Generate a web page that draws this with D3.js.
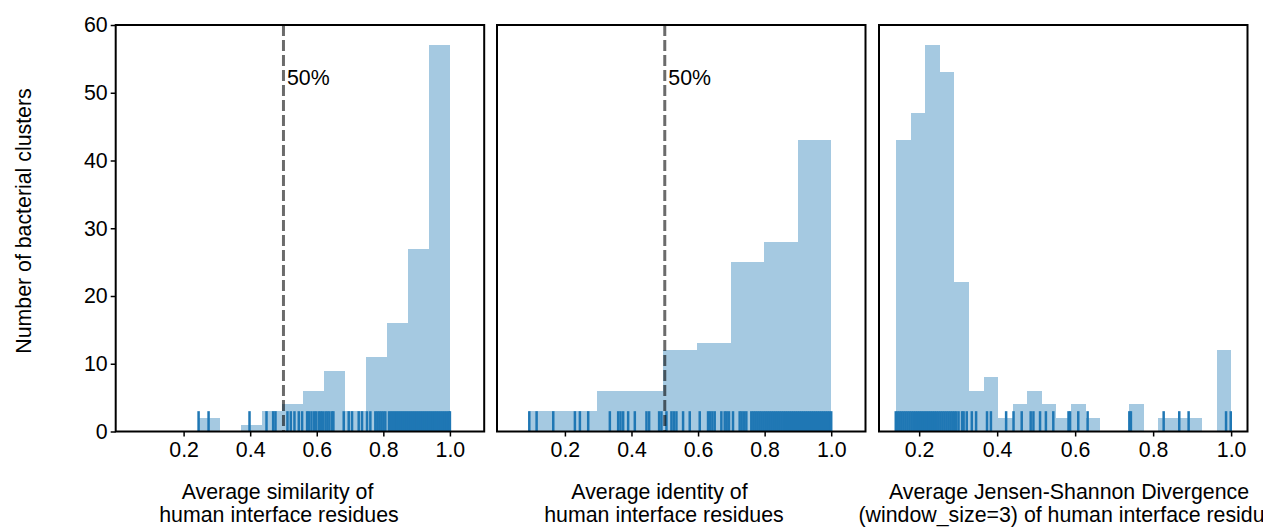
<!DOCTYPE html>
<html>
<head>
<meta charset="utf-8">
<script src="https://cdn.jsdelivr.net/npm/d3@7"></script>
<style>
    body { margin: 0; background: #fff; overflow: hidden; }
    text { font-family: "Liberation Sans", Arial, sans-serif; }
</style>
</head>
<body>
<script>
//histogram bin edges and counts
const simEdges = [0.247, 0.309, 0.372, 0.435, 0.497, 0.560, 0.623, 0.686, 0.749, 0.812, 0.874, 0.937, 1.0];
const simCounts = [2, 0, 1, 3, 4, 6, 9, 3, 11, 16, 27, 57];

const idEdges = [0.093, 0.194, 0.295, 0.395, 0.496, 0.597, 0.698, 0.798, 0.899, 1.0];
const idCounts = [3, 3, 6, 6, 12, 13, 25, 28, 43];

const jsdEdges = [0.141, 0.178, 0.216, 0.253, 0.290, 0.328, 0.365, 0.402, 0.440, 0.477, 0.515, 0.552,
    0.589, 0.627, 0.664, 0.701, 0.739, 0.776, 0.813, 0.851, 0.888, 0.925, 0.963, 1.0];
const jsdCounts = [43, 47, 57, 53, 22, 6, 8, 2, 4, 6, 4, 2, 4, 2, 0, 0, 4, 0, 2, 2, 2, 0, 12];

//rug values (one tick per cluster, as far as they can be told apart)
const simRug = [0.245, 0.275, 0.398, 0.449, 0.469, 0.476,
    0.512, 0.522, 0.533, 0.546, 0.556,
    0.571, 0.576, 0.584, 0.592, 0.598, 0.606, 0.612, 0.618, 0.626, 0.632, 0.638, 0.646, 0.650,
    0.681, 0.696, 0.706, 0.726, 0.736, 0.751, 0.761,
    0.776, 0.782, 0.788, 0.794, 0.800, 0.806,
    0.817, 0.823, 0.829, 0.835, 0.841, 0.847, 0.853, 0.859, 0.865, 0.871, 0.877, 0.883, 0.889, 0.895,
    0.901, 0.907, 0.913, 0.919, 0.925, 0.931, 0.937, 0.943, 0.949, 0.955, 0.961, 0.967, 0.973, 0.979,
    0.985, 0.991, 0.997, 1.0];

const idRug = [0.093, 0.115, 0.165, 0.230, 0.245, 0.270, 0.335, 0.360, 0.367, 0.375, 0.390, 0.410,
    0.445, 0.453, 0.483, 0.490, 0.505, 0.520, 0.527, 0.535, 0.555, 0.575, 0.605,
    0.630, 0.636, 0.643, 0.650, 0.670, 0.680, 0.686, 0.693, 0.705, 0.725, 0.731, 0.738, 0.745,
    0.760, 0.766, 0.772, 0.778, 0.784, 0.790, 0.796, 0.802, 0.808, 0.814, 0.820, 0.826, 0.832, 0.838,
    0.844, 0.850, 0.856, 0.862, 0.868, 0.874, 0.880, 0.886, 0.892, 0.898, 0.904, 0.910, 0.916, 0.922,
    0.928, 0.934, 0.940, 0.946, 0.952, 0.958, 0.964, 0.970, 0.976, 0.982, 0.988, 0.994, 1.0];

const jsdRug = [0.140, 0.145, 0.150, 0.155, 0.160, 0.165, 0.170, 0.175, 0.180, 0.185, 0.190, 0.195,
    0.200, 0.205, 0.210, 0.215, 0.220, 0.225, 0.230, 0.235, 0.240, 0.245, 0.250, 0.255, 0.260, 0.265,
    0.270, 0.275, 0.280, 0.285, 0.290, 0.295, 0.301, 0.310, 0.314, 0.322, 0.335, 0.346, 0.374, 0.384,
    0.423, 0.442, 0.463, 0.486, 0.493, 0.510, 0.525, 0.544, 0.583, 0.587, 0.608, 0.632, 0.739, 0.743,
    0.827, 0.867, 0.891, 0.987, 0.999];

//ticks and labels
const yTicks = [0, 10, 20, 30, 40, 50, 60];
const xTicks = [0.2, 0.4, 0.6, 0.8, 1.0];
const yLabel = "Number of bacterial clusters";
const simLabel = ["Average similarity of", "human interface residues"];
const idLabel = ["Average identity of", "human interface residues"];
const jsdLabel = ["Average Jensen-Shannon Divergence", "(window_size=3) of human interface residues"];
const cutoff = 0.5;
const cutoffLabel = "50%";

window.onload = function () {
    //svg dimensions
    const w = 1263, h = 527;
    const plotTop = 25, plotBottom = 431.5, pw = 368.5;
    const fontSize = "21.33px";

    var container = d3.select("body")
        .append("svg")
        .attr("width", w)
        .attr("height", h)
        .attr("class", "container")
        .style("background-color", "#fff");

    //shared y scale (sharey)
    var y = d3.scaleLinear()
        .domain([0, 60])
        .range([plotBottom, plotTop]);

    var panels = [
        { edges: simEdges, counts: simCounts, rug: simRug, domain: [-0.004, 1.103], left: 115.7,
          label: simLabel, labelX: [277.5, 279], yAxis: true, cut: true },
        { edges: idEdges, counts: idCounts, rug: idRug, domain: [-0.004, 1.103], left: 497,
          label: idLabel, labelX: [659.5, 664], yAxis: false, cut: true },
        { edges: jsdEdges, counts: jsdCounts, rug: jsdRug, domain: [0.097, 1.042], left: 879,
          label: jsdLabel, labelX: [1069, 1072.8], yAxis: false, cut: false }
    ];

    panels.forEach(p => {
        var x = d3.scaleLinear()
            .domain(p.domain)
            .range([p.left, p.left + pw]);

        var g = container.append("g").attr("class", "panel");

        //histogram bars
        var bins = p.counts.map((c, i) => ({ x0: p.edges[i], x1: p.edges[i + 1], n: c }));
        g.selectAll(".bar")
            .data(bins)
            .enter()
            .append("rect")
            .attr("class", "bar")
            .attr("x", d => x(d.x0))
            .attr("width", d => x(d.x1) - x(d.x0))
            .attr("y", d => y(d.n))
            .attr("height", d => y(0) - y(d.n))
            .attr("shape-rendering", "crispEdges")
            .style("fill", "#1f77b4")
            .style("fill-opacity", 0.4);

        //rug, 5% of the axes height
        var rugH = (plotBottom - plotTop) * 0.05;
        g.selectAll(".rug")
            .data(p.rug)
            .enter()
            .append("line")
            .attr("class", "rug")
            .attr("x1", d => x(d))
            .attr("x2", d => x(d))
            .attr("y1", plotBottom)
            .attr("y2", plotBottom - rugH)
            .style("stroke", "#1f77b4")
            .style("stroke-width", 2.5);

        //50% cutoff
        if (p.cut) {
            g.append("line")
                .attr("x1", x(cutoff))
                .attr("x2", x(cutoff))
                .attr("y1", plotTop)
                .attr("y2", plotBottom)
                .style("stroke", "#000")
                .style("stroke-opacity", 0.58)
                .style("stroke-width", 3)
                .style("stroke-dasharray", "11,4");

            g.append("text")
                .attr("x", x(cutoff) + 3.5)
                .attr("y", 85)
                .style("font-size", fontSize)
                .style("fill", "#000")
                .text(cutoffLabel);
        }

        //x axis
        var xAxis = d3.axisBottom(x)
            .tickValues(xTicks)
            .tickFormat(d3.format(".1f"))
            .tickSize(5)
            .tickPadding(5)
            .tickSizeOuter(0);

        var xg = g.append("g")
            .attr("class", "axis")
            .attr("transform", `translate(0,${plotBottom})`)
            .call(xAxis);
        xg.select(".domain").remove();
        xg.selectAll("line").style("stroke", "#000").style("stroke-width", 1.5);
        xg.selectAll("text").style("font-size", fontSize).style("fill", "#000")
            .style("font-family", "'Liberation Sans', Arial, sans-serif");

        //y axis only on the first panel
        if (p.yAxis) {
            var yAxis = d3.axisLeft(y)
                .tickValues(yTicks)
                .tickSize(5)
                .tickPadding(3)
                .tickSizeOuter(0);

            var yg = g.append("g")
                .attr("class", "axis")
                .attr("transform", `translate(${p.left},0)`)
                .call(yAxis);
            yg.select(".domain").remove();
            yg.selectAll("line").style("stroke", "#000").style("stroke-width", 1.5);
            yg.selectAll("text").style("font-size", fontSize).style("fill", "#000")
                .style("font-family", "'Liberation Sans', Arial, sans-serif");
        }

        //frame (all four spines)
        g.append("rect")
            .attr("x", p.left)
            .attr("y", plotTop)
            .attr("width", pw)
            .attr("height", plotBottom - plotTop)
            .style("fill", "none")
            .style("stroke", "#000")
            .style("stroke-width", 2);

        //x label, two lines
        g.selectAll(".xlabel")
            .data(p.label)
            .enter()
            .append("text")
            .attr("class", "xlabel")
            .attr("text-anchor", "middle")
            .attr("x", (d, i) => p.labelX[i])
            .attr("y", (d, i) => 499 + i * 22.5)
            .style("font-size", fontSize)
            .style("fill", "#000")
            .text(d => d);
    });

    //y label
    container.append("text")
        .attr("text-anchor", "middle")
        .attr("transform", "translate(31,221) rotate(-90)")
        .style("font-size", fontSize)
        .style("fill", "#000")
        .text(yLabel);
};
</script>
</body>
</html>
